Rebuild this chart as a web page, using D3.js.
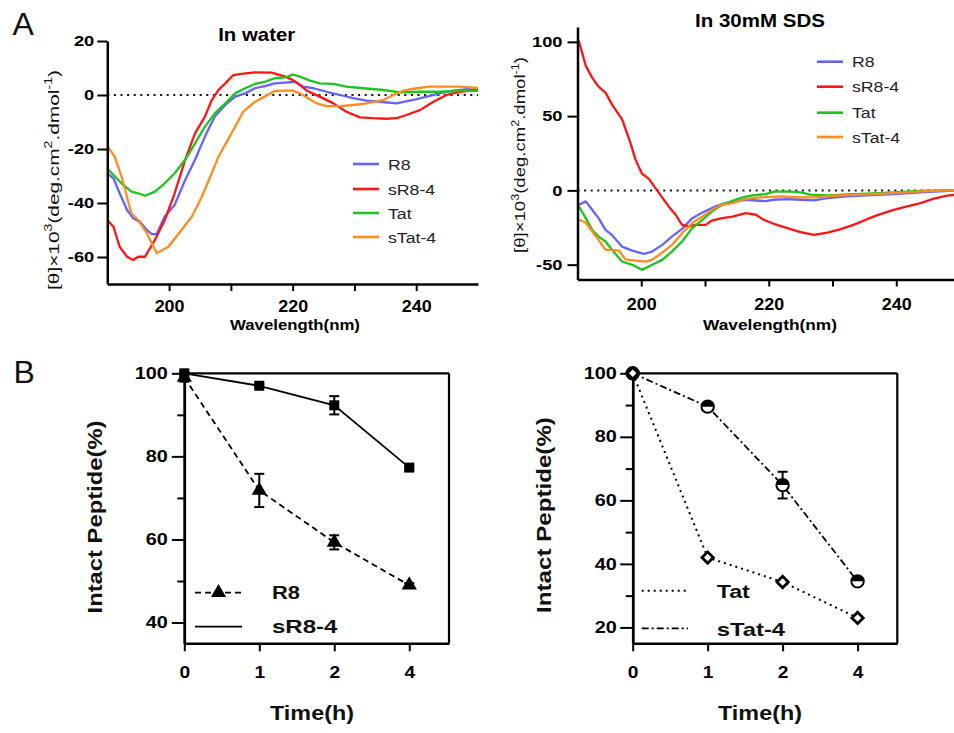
<!DOCTYPE html>
<html><head><meta charset="utf-8">
<script src="https://cdn.jsdelivr.net/npm/d3@7"></script>
<style>body{margin:0;background:#fff}svg{display:block}</style>
</head><body><svg id="c" width="954" height="733"></svg>
<script>
// ---------------- DATA ----------------
const cdNames = ["R8", "sR8-4", "Tat", "sTat-4"];
const cdColors = ["#6464ff", "#ff1414", "#1ec41e", "#ff8c1e"];

// In water: [wavelength nm, [θ]x10^3]
const waterR8 = [[190,-29],[191,-30.9],[192,-36.4],[193.2,-42.6],[194.2,-45.7],[195.3,-46.9],[196.4,-50],[197.2,-51.5],[198,-51.5],[199.3,-45],[200.9,-40.7],[202.6,-31.5],[204.2,-24],[205.8,-15.4],[207.4,-8],[209.1,-3.7],[210.7,-0.6],[212.3,0.6],[213.9,2.5],[215.5,3.3],[217.1,4.3],[218.8,4.6],[220.4,4.9],[221.7,3.1],[223.4,2.5],[225.5,1.2],[227.7,0],[229.8,-1.2],[232,-2.1],[234.1,-2.5],[236.8,-3.1],[239.5,-1.85],[241.7,-0.6],[243.8,0.6],[246,1.6],[248.2,2.2],[250,2.1]];
const waterSR84 = [[190,-46.3],[191,-48.8],[192,-56.2],[193.2,-59.9],[194.2,-61.1],[195,-59.9],[196.1,-59.9],[197.7,-53.7],[199.3,-46.3],[200.9,-36.4],[202.6,-24],[204.2,-14.2],[205.8,-8],[206.9,-1.9],[208,1.9],[209.1,4.3],[210.4,7.4],[211.7,7.8],[213.9,8.4],[216.6,8.3],[218.8,6.8],[220,5.6],[221.2,3.7],[222.3,1.6],[224.4,-0.6],[226.6,-3.1],[228.7,-6.2],[230.9,-8.3],[233,-8.6],[235.2,-8.8],[236.8,-8.6],[238.4,-7.4],[240.6,-5.6],[242.8,-2.5],[244.9,0],[247,1.2],[250,1.9]];
const waterTat = [[190,-27.2],[191,-29.6],[192.3,-32.7],[193.9,-35.8],[195,-36.4],[196.1,-37.3],[197.7,-35.8],[199.3,-32.7],[200.9,-29],[202.6,-24],[204.2,-17.9],[205.8,-11.7],[207.4,-6.8],[209.1,-3.1],[210.7,0.6],[212.3,2.5],[213.9,4.1],[215.5,4.9],[217.1,6.2],[218.8,6.5],[220,7.6],[221.2,6.8],[222.8,5.3],[224.4,4.3],[226.6,4.1],[228.7,3.1],[231.4,2.5],[234.7,1.85],[237.4,1],[240.6,1.2],[243.8,1.2],[247,1.5],[250,1.5]];
const waterSTat4 = [[190,-18.9],[191.2,-22.8],[192.3,-30.2],[193.9,-43.8],[195,-46.3],[196.4,-51.2],[198,-58.6],[199.9,-56.2],[202,-50],[203.7,-45],[205.3,-37.7],[206.9,-29],[208,-22.8],[210.1,-14.2],[212,-6.2],[213.9,-2.5],[215.5,-0.6],[217.1,1.5],[218.8,1.6],[220,1.6],[221.2,0.6],[222.3,-0.9],[223.9,-3.1],[225.5,-4.1],[227.7,-4.1],[229.8,-3.7],[232,-3.1],[234.7,-1.85],[236.3,0],[237.9,1.6],[240.1,2.5],[242.2,3.1],[244.9,3.1],[247,3.1],[250,2.6]];

// In 30mM SDS
const sdsR8 = [[190.2,-9.7],[191.3,-7.4],[192.3,-13],[193.3,-18.7],[194.4,-26.6],[195.4,-30],[197,-37.9],[198.6,-40.6],[200.4,-42.8],[201.7,-41.2],[203.3,-36.7],[204.8,-31.1],[206.4,-25.9],[208,-18.7],[209.6,-14.9],[211.6,-10.8],[213.2,-8.6],[214.8,-7.4],[216.4,-6.3],[218,-6.8],[219.5,-7.2],[220.8,-6.3],[222.9,-5.9],[225,-6.3],[227.1,-6.7],[229.2,-5.2],[232.3,-4],[235.4,-3.4],[239.6,-2.5],[243.8,-1.3],[250,0]];
const sdsSR84 = [[190.2,100.7],[191.3,83.8],[192.3,75.9],[193.3,69.8],[194.4,65.8],[195.4,57.9],[197,47.8],[198.3,32],[199.1,20.7],[200.1,11.3],[201.2,7.7],[202.8,-1.8],[204.3,-10.8],[205.4,-16.4],[206.4,-23.2],[207.5,-24.3],[208.5,-23.2],[210.1,-23.2],[211.1,-20.3],[212.7,-18.7],[214.3,-17.6],[216.4,-15.3],[218,-16.4],[219.2,-19.8],[220.8,-22.5],[222.9,-25.4],[225,-28.1],[227.1,-30],[229.2,-28.4],[231.3,-26.1],[233.3,-23.2],[235.4,-19.4],[237.5,-16],[239.6,-13.1],[241.7,-10.8],[243.8,-8.6],[245.9,-5.6],[248,-3.6],[250,-2.5]];
const sdsTat = [[190.2,-10.8],[191.3,-18.7],[192.3,-26.6],[193.3,-31.1],[194.4,-34.4],[195.4,-40],[197,-47.9],[198.6,-50.1],[200.1,-53.5],[201.7,-50.1],[203.3,-46.8],[204.8,-41.2],[206.4,-34.4],[208,-25.4],[209.6,-19.8],[211.1,-14.2],[212.7,-9.7],[214.3,-7],[215.9,-4.7],[217.4,-3.4],[219.5,-2.5],[220.8,-0.9],[222.9,-0.7],[225,-1.3],[226.5,-2.9],[229.2,-3.4],[232.3,-2.7],[235.4,-2.2],[239.6,-1.3],[243.8,-0.4],[250,0.2]];
const sdsSTat4 = [[190.2,-19.8],[191.3,-21.6],[192.3,-27.7],[193.3,-33.3],[194.4,-40],[195.4,-40],[196.5,-40.5],[197.5,-46.4],[199.1,-47.3],[200.7,-48],[201.7,-46.8],[203.3,-41.9],[204.8,-36.7],[206.4,-28.8],[208,-22],[209.6,-17.6],[211.1,-13.1],[212.7,-9.7],[214.3,-8.6],[215.9,-6.3],[217.4,-5.2],[219.5,-4.5],[221.9,-4],[225,-4.7],[227.1,-4.7],[230.2,-3.6],[234.4,-2.9],[239.6,-1.8],[243.8,-0.7],[250,0.2]];

const cdXTicks = [200, 220, 240];
const waterYTicks = [20, 0, -20, -40, -60];
const sdsYTicks = [100, 50, 0, -50];

// Stability (intact peptide %)
const timeLabels = ["0", "1", "2", "4"];
const r8Vals = [99, 71.8, 59.3, 49];
const r8Err = [1, 4, 1.7, 0.5];
const sr84Vals = [100, 97, 92.3, 77.3];
const sr84Err = [0.3, 0.4, 2.2, 0.4];
const tatVals = [100, 42, 34.3, 23];
const tatErr = [0.3, 0.5, 0.5, 0.5];
const stat4Vals = [100, 89.5, 64.8, 34.5];
const stat4Err = [0.3, 0.8, 4.2, 0.6];
const leftYTicks = [40, 60, 80, 100];
const leftYMinor = [50, 70, 90];
const rightYTicks = [20, 40, 60, 80, 100];
const rightYMinor = [30, 50, 70, 90];

// ---------------- DRAW ----------------
const FONT = "'Liberation Sans', Arial, Helvetica, sans-serif";
const svg = d3.select("#c");

function fitText(parent, o) {
  const g = parent.append("g");
  const t = g.append("text")
    .attr("font-family", FONT)
    .attr("font-size", o.size)
    .attr("font-weight", o.weight || "bold")
    .attr("text-anchor", o.anchor || "start")
    .attr("fill", o.fill || "#000");
  if (o.parts) {
    let prevSup = false;
    const sh = o.size * 0.42;
    o.parts.forEach(p => {
      let dy = 0;
      if (prevSup) dy += sh;
      if (p.sup) dy -= sh;
      t.append("tspan").attr("dy", dy).attr("font-size", p.sup ? o.size * 0.68 : o.size).text(p.t);
      prevSup = !!p.sup;
    });
  } else t.text(o.text);
  let sx = o.sx || 1;
  if (o.width) sx = o.width / t.node().getBBox().width;
  g.attr("transform", `translate(${o.x},${o.y})` + (o.rotate ? ` rotate(${o.rotate})` : "") + ` scale(${sx},1)`);
  return g;
}

function styleAxis(g, w) {
  g.select(".domain").attr("stroke", "#000").attr("stroke-width", w || 2.5);
  g.selectAll(".tick line").attr("stroke", "#000").attr("stroke-width", 2);
}

const thetaParts = [{t:"[θ]×10"},{t:"3",sup:true},{t:"(deg.cm"},{t:"2",sup:true},{t:".dmol"},{t:"-1",sup:true},{t:")"}];

function cdPanel(o) {
  const x = d3.scaleLinear().domain([190, 250]).range([o.left, o.right]);
  const y = d3.scaleLinear().domain(o.yDomain).range([o.bottom, o.top]);
  svg.append("line").attr("x1", x(190)).attr("x2", Math.min(x(250), 954)).attr("y1", y(0)).attr("y2", y(0))
    .attr("stroke", "#111").attr("stroke-width", 2).attr("stroke-dasharray", "2,4.6");
  const line = d3.line().x(d => x(d[0])).y(d => y(d[1]));
  o.series.forEach((s, i) => {
    svg.append("path").datum(s).attr("d", line).attr("fill", "none")
      .attr("stroke", cdColors[i]).attr("stroke-width", 2.3).attr("stroke-linejoin", "round");
  });
  const xa = svg.append("g").attr("transform", `translate(0,${o.bottom})`)
    .call(d3.axisBottom(x).tickValues([200, 210, 220, 230, 240]).tickSize(7).tickSizeOuter(0)
      .tickPadding(o.xPad).tickFormat(d => cdXTicks.includes(d) ? d : ""));
  styleAxis(xa);
  xa.selectAll(".tick text").attr("font-family", FONT).attr("font-size", 16).attr("font-weight", "bold")
    .attr("fill", "#000").attr("transform", "scale(1.12,1)");
  const ya = svg.append("g").attr("transform", `translate(${o.left},0)`)
    .call(d3.axisLeft(y).tickValues(o.yTicks).tickSize(10).tickSizeOuter(0).tickFormat(d => d));
  styleAxis(ya);
  ya.selectAll(".tick text").attr("font-family", FONT).attr("font-size", 15).attr("font-weight", "bold")
    .attr("fill", "#000").attr("x", 0).attr("transform", `translate(${-(10 + o.yPad)},0) scale(1.22,1)`);
  fitText(svg, {x: o.titleX, y: o.titleY, text: o.title, size: 18, anchor: "middle", width: o.titleW});
  fitText(svg, {x: o.xlabX, y: o.xlabY, text: "Wavelength(nm)", size: 15, anchor: "middle", width: o.xlabW});
  fitText(svg, {x: o.ylabX, y: o.ylabY, parts: thetaParts, size: 15, weight: "normal", anchor: "middle", rotate: -90, width: o.ylabW, fill: "#111"});
  cdNames.forEach((n, i) => {
    const ly = o.legY[i];
    svg.append("line").attr("x1", o.legX).attr("x2", o.legX + 26).attr("y1", ly).attr("y2", ly)
      .attr("stroke", cdColors[i]).attr("stroke-width", 2.6);
    fitText(svg, {x: o.legX + 35, y: ly + 5.5, text: n, size: 15, weight: "normal", sx: 1.18, fill: "#222"});
  });
}

cdPanel({left: 107.3, right: 478, top: 41, bottom: 284, yDomain: [-70, 20], yTicks: waterYTicks,
  series: [waterR8, waterSR84, waterTat, waterSTat4], xPad: 9.5, yPad: 3,
  title: "In water", titleX: 256.7, titleY: 40.5, titleW: 77,
  xlabX: 295, xlabY: 330, xlabW: 130, ylabX: 58.5, ylabY: 180, ylabW: 220,
  legX: 353, legY: [164, 189, 213, 237]});

cdPanel({left: 577.5, right: 960, top: 27, bottom: 279.5, yDomain: [-60, 110], yTicks: sdsYTicks,
  series: [sdsR8, sdsSR84, sdsTat, sdsSTat4], xPad: 12, yPad: 5,
  title: "In 30mM SDS", titleX: 760, titleY: 27, titleW: 130,
  xlabX: 770, xlabY: 329.5, xlabW: 134, ylabX: 525, ylabY: 155, ylabW: 196,
  legX: 817, legY: [61.7, 86.7, 112.7, 137]});

fitText(svg, {x: 12.5, y: 35, text: "A", size: 32, weight: "normal", fill: "#111"});
fitText(svg, {x: 13.5, y: 383, text: "B", size: 32, weight: "normal", fill: "#111"});

function errBars(x, y, vals, errs) {
  vals.forEach((v, i) => {
    const e = errs[i];
    if (e <= 0) return;
    const cx = x(i), y1 = y(v - e), y2 = y(v + e);
    svg.append("line").attr("x1", cx).attr("x2", cx).attr("y1", y1).attr("y2", y2).attr("stroke", "#000").attr("stroke-width", 2);
    [y1, y2].forEach(yy => svg.append("line").attr("x1", cx - 5).attr("x2", cx + 5).attr("y1", yy).attr("y2", yy).attr("stroke", "#000").attr("stroke-width", 2));
  });
}

function stabPanel(o) {
  const x = d3.scaleLinear().domain([0, 3.53]).range([o.left, o.right]);
  const y = d3.scaleLinear().domain(o.yDomain).range([o.bottom, o.top]);
  svg.append("line").attr("x1", x(0)).attr("x2", x(3.53)).attr("y1", y(o.yDomain[1])).attr("y2", y(o.yDomain[1])).attr("stroke", "#000").attr("stroke-width", 2.2);
  svg.append("line").attr("x1", x(3.53)).attr("x2", x(3.53)).attr("y1", y(o.yDomain[0])).attr("y2", y(o.yDomain[1])).attr("stroke", "#000").attr("stroke-width", 2.2);
  const xa = svg.append("g").attr("transform", `translate(0,${o.bottom})`)
    .call(d3.axisBottom(x).tickValues([0, 1, 2, 3]).tickSize(8).tickSizeOuter(0).tickPadding(15.5).tickFormat(i => timeLabels[i]));
  styleAxis(xa);
  xa.selectAll(".tick text").attr("font-family", FONT).attr("font-size", 16).attr("font-weight", "bold")
    .attr("fill", "#000").attr("transform", "scale(1.2,1)");
  const ym = svg.append("g").attr("transform", `translate(${o.left},0)`)
    .call(d3.axisLeft(y).tickValues(o.yMinor).tickSize(7).tickSizeOuter(0).tickFormat(""));
  styleAxis(ym);
  const ya = svg.append("g").attr("transform", `translate(${o.left},0)`)
    .call(d3.axisLeft(y).tickValues(o.yTicks).tickSize(12.5).tickSizeOuter(0).tickFormat(d => d));
  styleAxis(ya);
  ya.selectAll(".tick text").attr("font-family", FONT).attr("font-size", 16).attr("font-weight", "bold")
    .attr("fill", "#000").attr("x", 0).attr("transform", `translate(${-(12.5 + o.yPad)},0) scale(1.24,1)`);
  fitText(svg, {x: o.ylabX, y: o.ylabY, text: "Intact Peptide(%)", size: 20, anchor: "middle", rotate: -90, width: o.ylabW, fill: "#111"});
  fitText(svg, {x: o.xlabX, y: 720, text: "Time(h)", size: 20, anchor: "middle", width: 84, fill: "#111"});
  return {x, y};
}

const line2 = (x, y) => d3.line().x((d, i) => x(i)).y(d => y(d));

{
  const {x, y} = stabPanel({left: 184.3, right: 449, top: 373.3, bottom: 643.3, yDomain: [35, 100],
    yTicks: leftYTicks, yMinor: leftYMinor, yPad: 4, ylabX: 102, ylabY: 517, ylabW: 193, xlabX: 312});
  svg.append("path").attr("d", line2(x, y)(r8Vals)).attr("fill", "none").attr("stroke", "#000").attr("stroke-width", 1.8).attr("stroke-dasharray", "6,4");
  svg.append("path").attr("d", line2(x, y)(sr84Vals)).attr("fill", "none").attr("stroke", "#000").attr("stroke-width", 1.8);
  errBars(x, y, r8Vals, r8Err);
  errBars(x, y, sr84Vals, sr84Err);
  const tri = d3.symbol().type(d3.symbolTriangle).size(100);
  const sq = d3.symbol().type(d3.symbolSquare).size(100);
  r8Vals.forEach((v, i) => svg.append("path").attr("d", tri).attr("transform", `translate(${x(i)},${y(v)})`).attr("fill", "#000"));
  sr84Vals.forEach((v, i) => svg.append("path").attr("d", sq).attr("transform", `translate(${x(i)},${y(v)})`).attr("fill", "#000"));
  svg.append("line").attr("x1", 195).attr("x2", 242).attr("y1", 592.7).attr("y2", 592.7).attr("stroke", "#000").attr("stroke-width", 1.8).attr("stroke-dasharray", "6,4");
  svg.append("path").attr("d", tri).attr("transform", `translate(218.5,592.7)`).attr("fill", "#000");
  svg.append("line").attr("x1", 195).attr("x2", 242).attr("y1", 626.7).attr("y2", 626.7).attr("stroke", "#000").attr("stroke-width", 1.8);
  fitText(svg, {x: 272, y: 598.5, text: "R8", size: 19, width: 28, fill: "#111"});
  fitText(svg, {x: 272, y: 633, text: "sR8-4", size: 19, width: 66, fill: "#111"});
}

{
  const {x, y} = stabPanel({left: 632.7, right: 897.3, top: 373.3, bottom: 643.3, yDomain: [15, 100],
    yTicks: rightYTicks, yMinor: rightYMinor, yPad: 3.3, ylabX: 551, ylabY: 515, ylabW: 196, xlabX: 760});
  svg.append("path").attr("d", line2(x, y)(tatVals)).attr("fill", "none").attr("stroke", "#000").attr("stroke-width", 2).attr("stroke-dasharray", "2,4");
  svg.append("path").attr("d", line2(x, y)(stat4Vals)).attr("fill", "none").attr("stroke", "#000").attr("stroke-width", 1.8).attr("stroke-dasharray", "7,3,2,3");
  errBars(x, y, stat4Vals, stat4Err);
  errBars(x, y, tatVals, tatErr);
  const r = 6.2;
  stat4Vals.forEach((v, i) => {
    const g = svg.append("g").attr("transform", `translate(${x(i)},${y(v)})`);
    g.append("circle").attr("r", r).attr("fill", "#fff").attr("stroke", "#000").attr("stroke-width", 2);
    g.append("path").attr("d", `M${-r},0 A${r},${r} 0 0 1 ${r},0 Z`).attr("fill", "#000");
  });
  const dia = d3.symbol().type(d3.symbolSquare).size(64);
  tatVals.forEach((v, i) => svg.append("path").attr("d", dia).attr("transform", `translate(${x(i)},${y(v)}) rotate(45)`)
    .attr("fill", "#fff").attr("stroke", "#000").attr("stroke-width", 2.8));
  svg.append("line").attr("x1", 641.7).attr("x2", 688).attr("y1", 590.7).attr("y2", 590.7).attr("stroke", "#000").attr("stroke-width", 2).attr("stroke-dasharray", "2,4");
  svg.append("line").attr("x1", 641.7).attr("x2", 688).attr("y1", 628.3).attr("y2", 628.3).attr("stroke", "#000").attr("stroke-width", 1.8).attr("stroke-dasharray", "7,3,2,3");
  fitText(svg, {x: 716.7, y: 598, text: "Tat", size: 19, width: 34, fill: "#111"});
  fitText(svg, {x: 716.7, y: 636, text: "sTat-4", size: 19, width: 69, fill: "#111"});
}
</script></body></html>
